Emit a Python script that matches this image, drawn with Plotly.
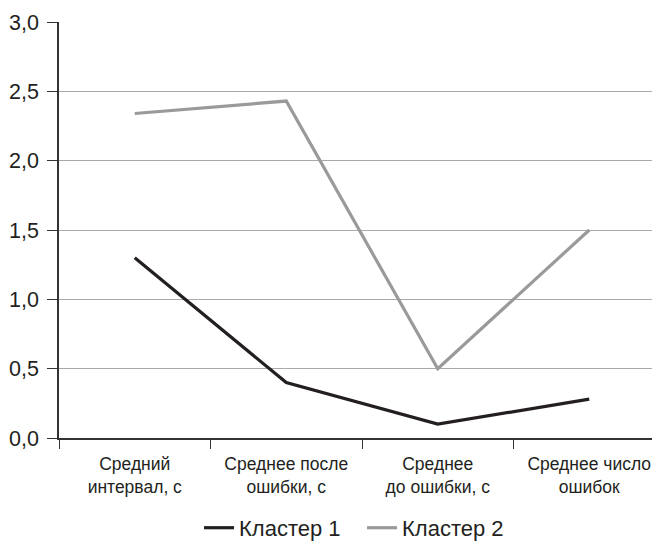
import plotly.graph_objects as go

categories = ["Средний<br>интервал, с", "Среднее после<br>ошибки, с", "Среднее<br>до ошибки, с", "Среднее число<br>ошибок"]
cluster1 = [1.30, 0.40, 0.10, 0.28]
cluster2 = [2.34, 2.43, 0.50, 1.50]
yticks = [0, 0.5, 1.0, 1.5, 2.0, 2.5, 3.0]
ytick_labels = ["0,0", "0,5", "1,0", "1,5", "2,0", "2,5", "3,0"]

fig = go.Figure()
fig.add_trace(go.Scatter(x=categories, y=cluster1, mode="lines", name="Кластер 1",
                         line=dict(color="#231f20", width=3.2)))
fig.add_trace(go.Scatter(x=categories, y=cluster2, mode="lines", name="Кластер 2",
                         line=dict(color="#9a9a9a", width=3.2)))

# the page body has an 8px margin, so the figure is 8px smaller than the window
fig.update_layout(
    width=652, height=536,
    margin=dict(l=51, r=0, t=14, b=106, autoexpand=False),
    paper_bgcolor="white", plot_bgcolor="white",
    font=dict(family="Liberation Sans, Arial, sans-serif", color="#231f20"),
    showlegend=True,
    legend=dict(orientation="h", xref="container", x=0.293, xanchor="left",
                yref="container", y=0.03, yanchor="middle",
                font=dict(size=22), itemwidth=30, tracegroupgap=0,
                entrywidth=118, entrywidthmode="pixels"),
)
fig.update_xaxes(type="category", range=[-0.5, 3.467], tickson="boundaries",
                 ticks="outside", ticklen=9, tickcolor="#333", tickwidth=1,
                 showline=True, linecolor="#333", linewidth=1.5, automargin=False,
                 showgrid=False, tickfont=dict(size=17.5), ticklabelstandoff=9)
fig.update_yaxes(range=[0, 3.0], tickvals=yticks, ticktext=ytick_labels,
                 ticks="outside", ticklen=10, tickcolor="#333", tickwidth=1,
                 showline=True, linecolor="#333", linewidth=1.5, automargin=False,
                 showgrid=True, gridcolor="#aaaaaa", gridwidth=1.2,
                 zeroline=False, tickfont=dict(size=21.5), ticklabelstandoff=4)

fig.write_html("out.html")
